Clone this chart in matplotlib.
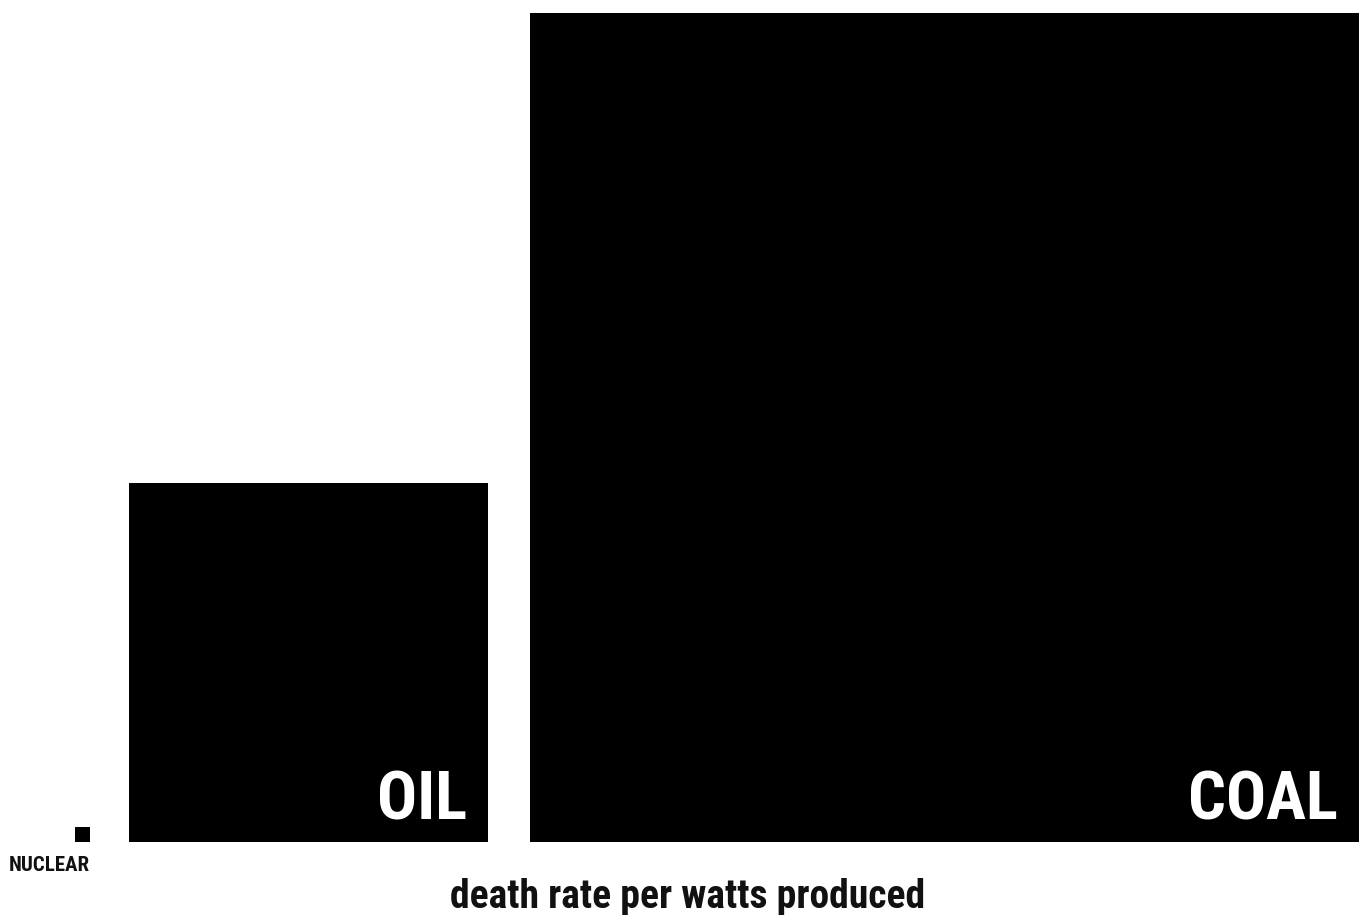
import matplotlib
matplotlib.use("Agg")
import matplotlib.pyplot as plt
from matplotlib.patches import Rectangle

# ─── DATA ───────────────────────────────────────────────────────────────────────
# square side lengths (area ~ death rate per watts produced)
sources = ["NUCLEAR", "OIL", "COAL"]
sides = [15, 359, 829]

# ─── LAYOUT ─────────────────────────────────────────────────────────────────────
W, H = 1364, 915
lefts = [75, 129, 530]
baseline = 842
FONT = ["Roboto Condensed", "DejaVu Sans"]

fig = plt.figure(figsize=(W / 100, H / 100), dpi=100)
ax = fig.add_axes([0, 0, 1, 1])
ax.set_xlim(0, W)
ax.set_ylim(H, 0)
ax.axis("off")

for name, side, x0 in zip(sources, sides, lefts):
    ax.add_patch(Rectangle((x0, baseline - side), side, side, color="black", lw=0))
    if name == "NUCLEAR":
        ax.text(x0 + side, baseline + 29, name, ha="right", va="baseline",
                fontsize=15, fontweight=900, family=FONT, color="#111111")
    else:
        ax.text(x0 + side - 21, baseline - 22, name, ha="right", va="baseline",
                fontsize=48, fontweight=900, family=FONT, color="white")

ax.text(688, 908, "death rate per watts produced", ha="center", va="baseline",
        fontsize=28.5, fontweight="bold", family=FONT, color="#111111")

fig.savefig("out.png", dpi=100)
